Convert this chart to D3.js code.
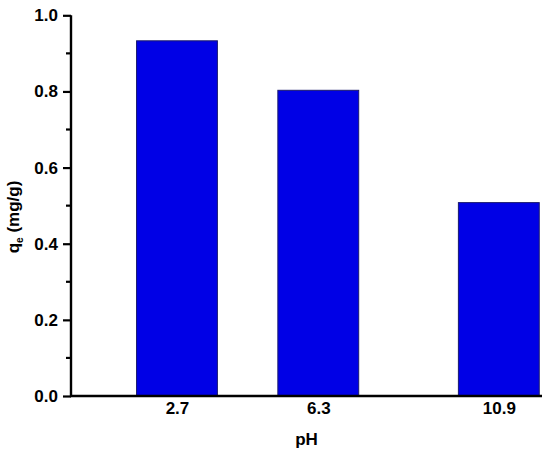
<!DOCTYPE html>
<html><head><meta charset="utf-8">
<script src="https://cdn.jsdelivr.net/npm/d3@7"></script>
<style>body{margin:0;background:#fff}text{font-family:Arial,"Liberation Sans",sans-serif;font-weight:bold}</style>
</head><body>
<svg id="c" width="550" height="451"></svg>
<script>
const categories = [2.7, 6.3, 10.9];
const tickLabels = ["2.7", "6.3", "10.9"];
const values = [0.933, 0.803, 0.508];
const yTicks = [0.0, 0.2, 0.4, 0.6, 0.8, 1.0];
const yMinor = [0.1, 0.3, 0.5, 0.7, 0.9];

const svg = d3.select("#c");
const x = d3.scaleLinear().domain([0, 12]).range([71, 542]);
const y = d3.scaleLinear().domain([0, 1]).range([396, 15.3]);
const bw = 2.06;

svg.append("g").selectAll("rect").data(values).join("rect")
  .attr("x", (d,i) => x(categories[i] - bw/2))
  .attr("width", (d,i) => x(categories[i] + bw/2) - x(categories[i] - bw/2))
  .attr("y", d => y(d))
  .attr("height", d => y(0) - y(d))
  .attr("fill", "#0000e6").attr("stroke", "#1a1a6e").attr("stroke-width", 1);

// y axis
const ya = svg.append("g").attr("transform", "translate(71,0)")
  .call(d3.axisLeft(y).tickValues(yTicks).tickFormat(d3.format(".1f")).tickSize(8).tickPadding(5));
ya.select(".domain").attr("stroke-width", 2.4).attr("d", `M0,${y(1)}V${y(0)+1}`);
ya.selectAll(".tick line").attr("stroke-width", 2.2);
ya.selectAll(".tick text").attr("font-size", 17).attr("fill", "#000");
ya.selectAll("line.minor").data(yMinor).join("line").attr("class","minor")
  .attr("x1", 0).attr("x2", -5).attr("y1", d => y(d)).attr("y2", d => y(d))
  .attr("stroke", "#000").attr("stroke-width", 2.2);

// x axis
const xa = svg.append("g").attr("transform", "translate(0,396)")
  .call(d3.axisBottom(x).tickValues(categories).tickFormat((d,i) => tickLabels[i]).tickSize(0).tickPadding(6));
xa.select(".domain").attr("stroke-width", 2.4).attr("d", `M70,0H542`);
xa.selectAll(".tick text").attr("font-size", 17).attr("fill", "#000");

svg.append("text").attr("x", (x.range()[0] + x.range()[1]) / 2).attr("y", 445).attr("text-anchor", "middle")
  .attr("font-size", 17).text("pH");

const yl = svg.append("text").attr("transform", "translate(19,217) rotate(-90)")
  .attr("text-anchor", "middle").attr("font-size", 17);
yl.append("tspan").text("q");
yl.append("tspan").attr("font-size", 10).attr("dy", 4).text("e");
yl.append("tspan").attr("dy", -4).text(" (mg/g)");
</script>
</body></html>
